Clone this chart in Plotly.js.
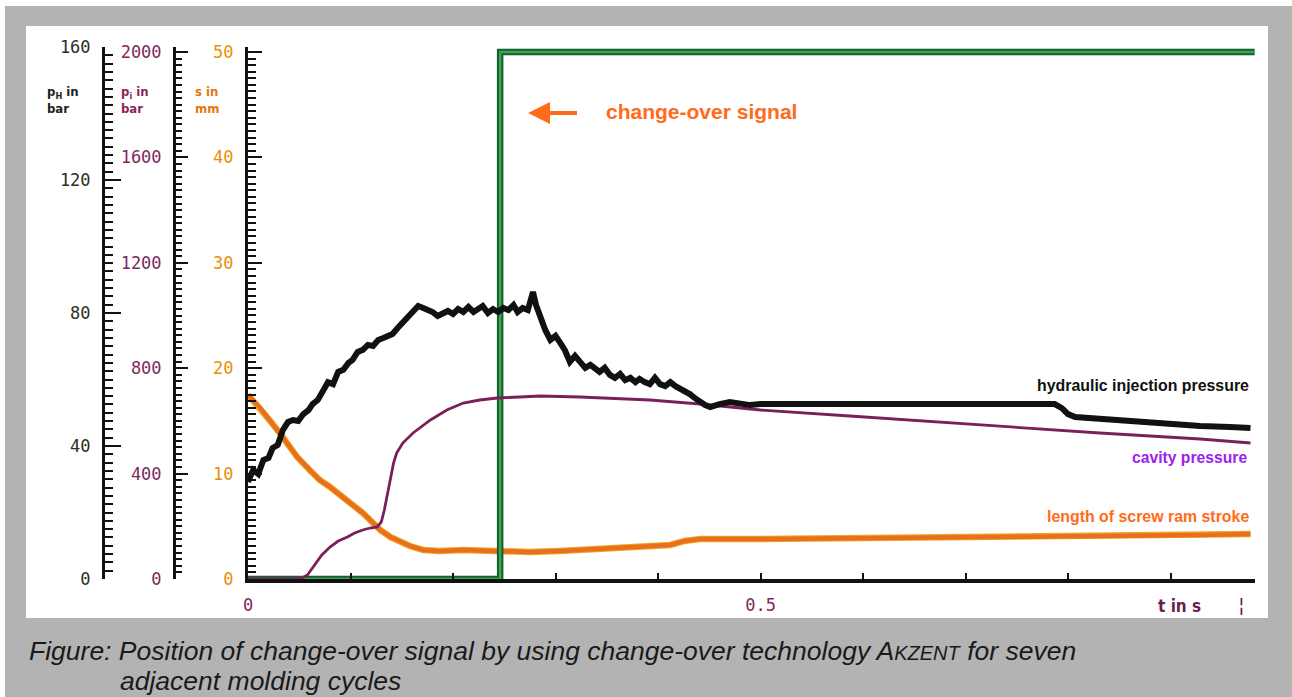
<!DOCTYPE html>
<html>
<head>
<meta charset="utf-8">
<script src="https://cdn.plot.ly/plotly-3.0.1.min.js"></script>
<style>html,body{margin:0;padding:0;background:#fff;}#chart{width:1292px;height:697px;}</style>
</head>
<body>
<div id="chart"></div>
<script>
// ---- data (time in s) ----
const hydT = [0.000,0.005,0.010,0.015,0.020,0.024,0.029,0.034,0.039,0.044,0.049,0.054,0.059,0.063,0.068,0.073,0.078,0.083,0.088,0.093,0.098,0.102,0.107,0.112,0.117,0.122,0.127,0.132,0.137,0.141,0.146,0.151,0.156,0.161,0.166,0.171,0.176,0.180,0.185,0.190,0.195,0.200,0.205,0.210,0.215,0.220,0.224,0.229,0.234,0.239,0.244,0.249,0.254,0.259,0.263,0.268,0.273,0.276,0.278,0.281,0.285,0.290,0.295,0.300,0.304,0.309,0.314,0.319,0.324,0.329,0.334,0.339,0.343,0.348,0.353,0.358,0.363,0.368,0.373,0.378,0.382,0.387,0.392,0.397,0.402,0.407,0.412,0.417,0.421,0.426,0.431,0.436,0.441,0.446,0.451,0.456,0.460,0.470,0.480,0.490,0.500,0.519,0.539,0.587,0.636,0.685,0.734,0.773,0.787,0.794,0.800,0.807,0.821,0.841,0.870,0.900,0.929,0.958,0.978];
const hydP = [29.2,32.8,31.6,35.8,36.4,39.4,40.3,44.8,47.2,47.8,47.5,49.6,50.8,52.6,53.8,56.2,59.2,58.6,62.3,62.9,65.0,65.9,68.3,68.9,70.4,70.1,71.9,72.5,73.4,73.7,75.5,77.3,79.1,80.3,82.1,81.5,80.9,80.3,79.1,79.7,80.6,79.7,81.2,80.3,81.8,80.3,80.9,82.1,80.0,81.2,80.3,81.5,80.9,82.4,80.3,81.5,80.9,83.9,86.3,82.4,78.5,74.9,71.9,73.1,71.3,68.9,65.3,67.1,65.3,63.5,64.4,62.9,62.3,63.5,61.4,60.5,61.7,59.8,60.5,59.2,60.2,59.2,58.6,60.5,58.6,58.0,59.2,58.0,57.4,56.8,55.6,54.4,53.2,52.3,51.7,52.3,52.6,53.2,52.6,52.3,52.6,52.6,52.6,52.6,52.6,52.6,52.9,52.9,52.6,51.4,49.6,48.7,48.4,47.8,46.9,46.3,46.0,45.7,45.4];

const cavT = [0.000,0.051,0.058,0.065,0.072,0.080,0.088,0.097,0.104,0.112,0.119,0.126,0.130,0.133,0.136,0.139,0.142,0.145,0.151,0.161,0.170,0.178,0.194,0.210,0.226,0.243,0.265,0.285,0.324,0.363,0.392,0.441,0.500,0.587,0.685,0.734,0.831,0.929,0.978];
const cavP = [0,0,15.2,53.1,91.1,121.4,144.2,159.4,174.6,186.0,193.5,197.3,216.3,261.9,318.8,375.7,440.2,478.2,516.1,554.1,580.6,603.4,641.4,667.9,679.3,686.9,690.7,694.5,690.7,683.1,679.3,664.1,641.4,618.6,592.0,580.6,554.1,531.3,516.1];

const strokeT = [0.000,0.012,0.021,0.031,0.041,0.048,0.060,0.070,0.080,0.090,0.100,0.112,0.121,0.129,0.139,0.145,0.158,0.171,0.187,0.210,0.246,0.275,0.304,0.343,0.382,0.412,0.426,0.441,0.500,0.587,0.685,0.734,0.831,0.929,0.978];
const strokeS = [17.46,16.22,15.08,13.85,12.52,11.57,10.34,9.39,8.73,7.97,7.21,6.26,5.41,4.65,3.98,3.70,3.13,2.75,2.66,2.75,2.66,2.56,2.66,2.85,3.04,3.23,3.61,3.79,3.79,3.89,3.98,3.98,4.08,4.17,4.27];

const signalT = [0.000,0.246,0.246,0.982];
const signalS = [0,0,50,50];

const xTickVals = [0,0.5];
const xTickText = ['0','0.5'];

// ---- layout helpers ----
const W = 1292, H = 697;
const px = v => v / W;
const py = v => (H - v) / H;
const monoFont = 'DejaVu Sans Mono, monospace';
const labelFont = 'Liberation Sans, Arial, sans-serif';
const capFont = 'Liberation Sans, Arial, sans-serif';

const traces = [
  {x: strokeT, y: strokeS, yaxis: 'y', mode: 'lines', line: {color: '#f2a52a', width: 6.5}, hoverinfo: 'skip'},
  {x: strokeT, y: strokeS, yaxis: 'y', mode: 'lines', line: {color: '#e8701c', width: 4.5}, hoverinfo: 'skip'},
  {x: signalT, y: signalS, yaxis: 'y', mode: 'lines', line: {color: '#135c3e', width: 6.5}, hoverinfo: 'skip'},
  {x: signalT, y: signalS, yaxis: 'y', mode: 'lines', line: {color: '#3fa83a', width: 2.5}, hoverinfo: 'skip'},
  {x: cavT, y: cavP, yaxis: 'y2', mode: 'lines', line: {color: '#7a1f5a', width: 2.8}, hoverinfo: 'skip'},
  {x: hydT, y: hydP, yaxis: 'y3', mode: 'lines', line: {color: '#111111', width: 6}, hoverinfo: 'skip'}
];

const yCommon = {
  domain: [py(579), py(47)],
  showgrid: false, zeroline: false, showline: true, linecolor: '#111', linewidth: 3,
  ticks: 'inside', tickcolor: '#111', tickwidth: 2, automargin: false,
  ticklabelstandoff: 8, side: 'left', fixedrange: true
};

const layout = {
  width: W, height: H, autosize: false,
  margin: {l: 0, r: 0, t: 0, b: 0, pad: 0},
  paper_bgcolor: '#ffffff', plot_bgcolor: 'rgba(0,0,0,0)',
  showlegend: false,
  xaxis: {
    domain: [px(248), px(1255)], range: [0, 0.9824], anchor: 'y',
    showgrid: false, zeroline: false, showline: true, linecolor: '#111', linewidth: 4,
    ticks: 'inside', ticklen: 6, tickwidth: 2, tickcolor: '#111',
    tickmode: 'array', tickvals: xTickVals, ticktext: xTickText,
    minor: {tickmode: 'linear', tick0: 0, dtick: 0.1, ticks: 'inside', ticklen: 6, tickwidth: 2, tickcolor: '#111', showgrid: false},
    tickfont: {family: monoFont, size: 17, color: '#7b2a5e'},
    ticklabelstandoff: 8, automargin: false, fixedrange: true
  },
  yaxis: Object.assign({}, yCommon, {
    range: [0, 50.47], tickmode: 'linear', tick0: 0, dtick: 10, ticklen: 14,
    minor: {tickmode: 'linear', tick0: 0, dtick: 0.625, ticks: 'inside', ticklen: 8, tickwidth: 2, tickcolor: '#111', showgrid: false},
    tickfont: {family: monoFont, size: 17, color: '#e8900a'}
  }),
  yaxis2: Object.assign({}, yCommon, {
    overlaying: 'y', anchor: 'free', position: px(174),
    range: [0, 2018.98], tickmode: 'linear', tick0: 0, dtick: 400, ticklen: 12,
    minor: {tickmode: 'linear', tick0: 0, dtick: 25, ticks: 'inside', ticklen: 6, tickwidth: 2, tickcolor: '#111', showgrid: false},
    tickfont: {family: monoFont, size: 17, color: '#7b2a5e'}
  }),
  yaxis3: Object.assign({}, yCommon, {
    overlaying: 'y', anchor: 'free', position: px(103),
    range: [0, 160], tickmode: 'linear', tick0: 0, dtick: 40, ticklen: 16,
    minor: {tickmode: 'linear', tick0: 0, dtick: 2.5, ticks: 'inside', ticklen: 8, tickwidth: 2, tickcolor: '#111', showgrid: false},
    tickfont: {family: monoFont, size: 17, color: '#283022'}
  }),
  shapes: [
    {type: 'rect', xref: 'paper', yref: 'paper', x0: px(5), x1: 1, y0: 0, y1: py(6), fillcolor: '#b3b3b3', line: {width: 0}, layer: 'below'},
    {type: 'rect', xref: 'paper', yref: 'paper', x0: px(26), x1: px(1268), y0: py(618), y1: py(26), fillcolor: '#ffffff', line: {width: 0}, layer: 'below'}
  ],
  annotations: [
    {xref: 'paper', yref: 'paper', x: px(45), y: py(100), xanchor: 'left', yanchor: 'middle', align: 'left', showarrow: false,
     text: '<b>p<sub>H</sub> in<br>bar</b>', font: {family: 'DejaVu Sans Condensed, DejaVu Sans, sans-serif', size: 13, color: '#1d2519'}},
    {xref: 'paper', yref: 'paper', x: px(119), y: py(100), xanchor: 'left', yanchor: 'middle', align: 'left', showarrow: false,
     text: '<b>p<sub>i</sub> in<br>bar</b>', font: {family: 'DejaVu Sans Condensed, DejaVu Sans, sans-serif', size: 13, color: '#8a2555'}},
    {xref: 'paper', yref: 'paper', x: px(193), y: py(100), xanchor: 'left', yanchor: 'middle', align: 'left', showarrow: false,
     text: '<b>s in<br>mm</b>', font: {family: 'DejaVu Sans Condensed, DejaVu Sans, sans-serif', size: 13, color: '#e07a10'}},
    {xref: 'paper', yref: 'paper', x: px(528), y: py(113), ax: 52, ay: 0, showarrow: true, arrowhead: 2, arrowsize: 1.1, arrowwidth: 4, arrowcolor: '#ff6b1a', text: ' '},
    {xref: 'paper', yref: 'paper', x: px(701), y: py(112), xanchor: 'center', yanchor: 'middle', showarrow: false,
     text: '<b>change-over signal</b>', font: {family: labelFont, size: 21, color: '#ff6b1a'}},
    {xref: 'paper', yref: 'paper', x: px(1251), y: py(386), xanchor: 'right', yanchor: 'middle', showarrow: false,
     text: '<b>hydraulic injection pressure</b>', font: {family: labelFont, size: 15.9, color: '#111111'}},
    {xref: 'paper', yref: 'paper', x: px(1249), y: py(457), xanchor: 'right', yanchor: 'middle', showarrow: false,
     text: '<b>cavity pressure</b>', font: {family: labelFont, size: 15.7, color: '#9b22ee'}},
    {xref: 'paper', yref: 'paper', x: px(1251), y: py(516), xanchor: 'right', yanchor: 'middle', showarrow: false,
     text: '<b>length of screw ram stroke</b>', font: {family: labelFont, size: 15.9, color: '#ff6b1a'}},
    {xref: 'paper', yref: 'paper', x: px(1179), y: py(606), xanchor: 'center', yanchor: 'middle', showarrow: false,
     text: '<b>t in s</b>', font: {family: 'DejaVu Sans Condensed, sans-serif', size: 17, color: '#6b1f4f'}},
    {xref: 'paper', yref: 'paper', x: px(1241), y: py(605), xanchor: 'center', yanchor: 'middle', showarrow: false,
     text: '¦', font: {family: 'DejaVu Sans, sans-serif', size: 20, color: '#6b1f4f'}},
    {xref: 'paper', yref: 'paper', x: px(27), y: py(651), xanchor: 'left', yanchor: 'middle', showarrow: false, align: 'left',
     text: '<i>Figure: Position of change-over signal by using change-over technology A<span style="font-size:20px">KZENT</span> for seven</i>',
     font: {family: capFont, size: 26.5, color: '#1a1a1a'}},
    {xref: 'paper', yref: 'paper', x: px(118), y: py(681), xanchor: 'left', yanchor: 'middle', showarrow: false, align: 'left',
     text: '<i>adjacent molding cycles</i>',
     font: {family: capFont, size: 26.5, color: '#1a1a1a'}}
  ]
};

Plotly.newPlot('chart', traces, layout, {staticPlot: true, displayModeBar: false});
</script>
</body>
</html>
